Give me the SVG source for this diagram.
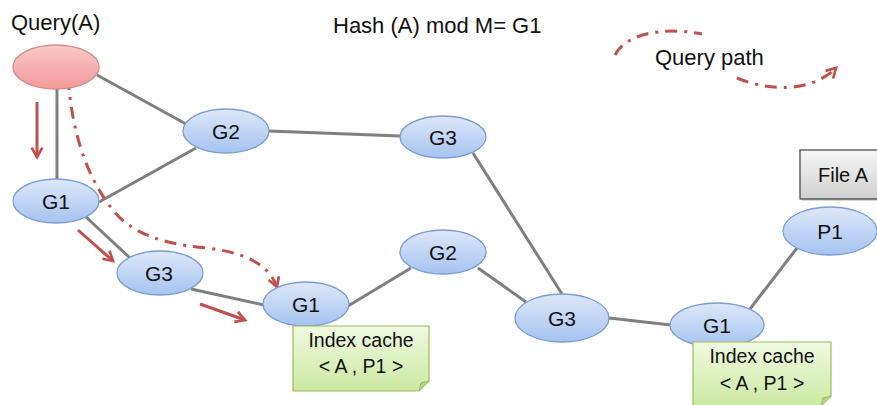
<svg xmlns="http://www.w3.org/2000/svg" width="877" height="405" viewBox="0 0 877 405">
<style>
text{font-family:"Liberation Sans",Arial,sans-serif;fill:#111}
.lbl{font-size:21px;text-anchor:middle}
.node{fill:url(#gBlue);stroke:#7a9cd6;stroke-width:1.3}
.edge{stroke:#7f7f7f;stroke-width:3;fill:none}
.red{stroke:#c0504d;stroke-width:3;fill:none}
.dd{stroke:#c0504d;stroke-width:3;fill:none;stroke-dasharray:12 7 3 7}
.note{fill:url(#gGreen);stroke:#9bbb59;stroke-width:1.2}
.idx{font-size:19.5px;text-anchor:middle}
.top{font-size:22px}
</style>
<defs>
<linearGradient id="gBlue" x1="0" y1="0" x2="0" y2="1">
<stop offset="0" stop-color="#dde8f8"/><stop offset="1" stop-color="#a6c3f1"/>
</linearGradient>
<linearGradient id="gRed" x1="0" y1="0" x2="0" y2="1">
<stop offset="0" stop-color="#f9c9c9"/><stop offset="1" stop-color="#f29a9a"/>
</linearGradient>
<linearGradient id="gGreen" x1="0" y1="0" x2="0" y2="1">
<stop offset="0" stop-color="#f0f9e1"/><stop offset="1" stop-color="#cbe9a2"/>
</linearGradient>
<linearGradient id="gGray" x1="0" y1="0" x2="0" y2="1">
<stop offset="0" stop-color="#f7f7f7"/><stop offset="1" stop-color="#cfcfcf"/>
</linearGradient>
<marker id="ah" viewBox="0 0 10 10" refX="8" refY="5" markerWidth="4.5" markerHeight="4.5" orient="auto" markerUnits="strokeWidth">
<polyline points="1,1 8,5 1,9" fill="none" stroke="#c0504d" stroke-width="2"/>
</marker>
</defs>
<rect width="877" height="405" fill="#ffffff"/>

<text class="top" x="11" y="30">Query(A)</text>
<text class="top" x="333" y="33">Hash (A) mod M= G1</text>
<text class="top" x="655" y="65">Query path</text>

<g id="connectors">
<line class="edge" x1="57" y1="89" x2="57" y2="179"/>
<line class="edge" x1="97" y1="75" x2="186" y2="124"/>
<line class="edge" x1="269" y1="131" x2="400" y2="136"/>
<line class="edge" x1="99" y1="202" x2="196" y2="148"/>
<line class="edge" x1="86" y1="217" x2="130" y2="258"/>
<line class="edge" x1="191" y1="289" x2="264" y2="305"/>
<line class="edge" x1="348" y1="306" x2="411" y2="268"/>
<line class="edge" x1="478" y1="268" x2="526" y2="302"/>
<line class="edge" x1="473" y1="153" x2="562" y2="294"/>
<line class="edge" x1="609" y1="318" x2="671" y2="325"/>
<line class="edge" x1="750" y1="309" x2="797" y2="248"/>
<line class="red" x1="37" y1="102" x2="37" y2="157" marker-end="url(#ah)"/>
<line class="red" x1="78" y1="230" x2="113" y2="261" marker-end="url(#ah)"/>
<line class="red" x1="200" y1="304" x2="245" y2="320" marker-end="url(#ah)"/>
<path class="dd" d="M68,78 C72,130 85,175 113,210 C130,232 160,244 207,248 C240,252 268,262 277,287" marker-end="url(#ah)"/>
<path class="dd" d="M615,55 C625,35 660,26 702,34"/>
<path class="dd" d="M737,78 C770,92 812,92 836,68" marker-end="url(#ah)"/>
</g>

<g id="query"><ellipse cx="56" cy="67" rx="43" ry="22" fill="url(#gRed)" stroke="#d98a8a" stroke-width="1.3"/></g>
<g id="g2top"><ellipse class="node" cx="226" cy="131" rx="43" ry="22"/><text class="lbl" x="226" y="139">G2</text></g>
<g id="g3top"><ellipse class="node" cx="443" cy="137" rx="43" ry="21"/><text class="lbl" x="443" y="145">G3</text></g>
<g id="g1left"><ellipse class="node" cx="56" cy="201" rx="43" ry="22"/><text class="lbl" x="56" y="209">G1</text></g>
<g id="g3mid"><ellipse class="node" cx="160" cy="273" rx="43" ry="22"/><text class="lbl" x="159" y="281">G3</text></g>
<g id="g1mid"><ellipse class="node" cx="306" cy="304" rx="43" ry="22"/><text class="lbl" x="306" y="312">G1</text></g>
<g id="g2mid"><ellipse class="node" cx="443" cy="252" rx="43" ry="22"/><text class="lbl" x="443" y="260">G2</text></g>
<g id="g3bot"><ellipse class="node" cx="562" cy="318" rx="47" ry="24"/><text class="lbl" x="562" y="326">G3</text></g>
<g id="g1right"><ellipse class="node" cx="717" cy="325" rx="47" ry="22"/><text class="lbl" x="717" y="333">G1</text></g>
<g id="p1"><ellipse class="node" cx="830" cy="231" rx="47" ry="24"/><text class="lbl" x="830" y="239">P1</text></g>

<g id="cache1">
<path class="note" d="M293,326 H429 V381 L419,391 H293 Z"/>
<path d="M419,391 L421,383 L429,381" fill="#b5d383" stroke="#9bbb59" stroke-width="1"/>
<text class="idx" x="361" y="347">Index cache</text>
<text class="idx" x="361" y="373">&lt; A , P1 &gt;</text>
</g>
<g id="cache2">
<path class="note" d="M693,342 H831 V396 L821,406 H693 Z"/>
<path d="M821,406 L823,398 L831,396" fill="#b5d383" stroke="#9bbb59" stroke-width="1"/>
<text class="idx" x="762" y="363">Index cache</text>
<text class="idx" x="762" y="390">&lt; A , P1 &gt;</text>
</g>
<g id="fileA">
<rect x="802" y="152" width="80" height="49" fill="#bbbbbb" opacity="0.6"/>
<rect x="800" y="150" width="80" height="49" fill="url(#gGray)" stroke="#404040" stroke-width="1.2"/>
<text x="843" y="182" style="font-size:20px;text-anchor:middle">File A</text>
</g>
</svg>
